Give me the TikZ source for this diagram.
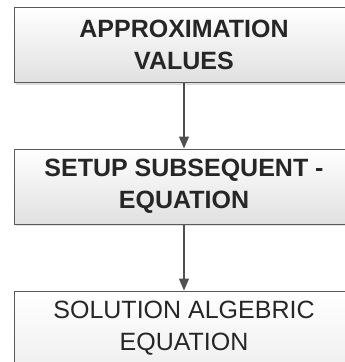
\documentclass[tikz,border=0pt]{standalone}
\usepackage{fontspec}
\setmainfont{Liberation Sans}
\usetikzlibrary{shadows,arrows.meta}
\definecolor{boxline}{HTML}{5A5A5A}
\definecolor{txt}{HTML}{262626}
\definecolor{arrowc}{HTML}{505050}
\tikzset{
  flowbox/.style={draw=boxline, line width=1pt, rectangle, minimum width=340pt, minimum height=75pt,
    top color=white, bottom color=black!12, align=center, text=txt,
    font=\fontsize{25pt}{32pt}\selectfont,
    drop shadow={shadow xshift=1.5pt, shadow yshift=-2pt, opacity=0.25}},
  flowarrow/.style={draw=arrowc, line width=1.2pt, -{Triangle[length=12pt,width=10pt]}}
}
\begin{document}
\begin{tikzpicture}[x=1pt,y=-1pt]
\useasboundingbox (0,0) rectangle (345,362);
\clip (0,0) rectangle (345,362);
\fill[white] (0,0) rectangle (345,362);
\node[flowbox, font=\fontsize{25pt}{32pt}\selectfont\bfseries] (a) at (184,45) {APPROXIMATION\\VALUES};
\node[flowbox, font=\fontsize{25pt}{32pt}\selectfont\bfseries] (b) at (184,186.5) {SETUP SUBSEQUENT -\\EQUATION};
\node[flowbox, top color=white, bottom color=black!6] (c) at (184,328.5) {SOLUTION ALGEBRIC\\EQUATION};
\draw[flowarrow] (a.south) -- (b.north);
\draw[flowarrow] (b.south) -- (c.north);
\end{tikzpicture}
\end{document}
